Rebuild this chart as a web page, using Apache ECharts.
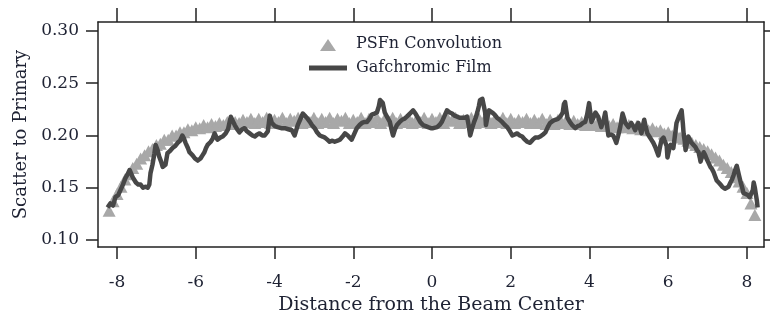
<!DOCTYPE html>
<html>
<head>
<meta charset="utf-8">
<script src="https://cdn.jsdelivr.net/npm/echarts@6/dist/echarts.min.js"></script>
<style>
  html, body { margin: 0; padding: 0; background: #fff; }
  #chart { width: 770px; height: 320px; }
</style>
</head>
<body>
<div id="chart"></div>
<script>
// tick labels
const xTicks = [-8, -6, -4, -2, 0, 2, 4, 6, 8];
const yTicks = [0.10, 0.15, 0.20, 0.25, 0.30];

// PSFn Convolution, sampled every 0.1 from -8.2 to 8.2
const psfStart = -8.2;
const psfStep = 0.1;
const psfY = [
  .128, .137, .144, .151, .158, .163, .169, .173, .178, .181, .185, .187, .191, .192, .196, .196, .200,
  .200, .203, .203, .206, .205, .208, .207, .210, .208, .211, .209, .212, .210, .213, .211, .213,
  .212, .215, .213, .216, .212, .216, .213, .217, .212, .215,
  .213, .217, .212, .216, .214, .217, .212, .215, .213, .217,
  .212, .216, .213, .217, .212, .216, .214, .217, .212, .215,
  .213, .217, .212, .216, .213, .217, .212, .216, .214, .217,
  .212, .216, .213, .217, .212, .215, .213, .217, .212,
  .216, .213, .217, .212, .216, .214, .217, .212, .215, .213,
  .217, .212, .216, .213, .217, .212, .216, .213, .217, .212,
  .216, .212, .215, .213, .216, .212, .215, .212, .216, .211,
  .215, .211, .215, .212, .214, .211, .214, .211, .213, .210,
  .213, .210, .212, .209, .212, .209, .211, .208, .211, .208,
  .210, .207, .209, .206, .208, .205, .207, .204, .205, .202, .203, .200, .201, .198, .197, .195, .193,
  .191, .189, .187, .185, .182, .179, .176, .172, .169, .165, .160, .156, .151, .145, .135, .124
];

// Gafchromic Film trace
const filmX = [
  -8.24, -8.17, -8.10, -8.04, -7.97, -7.91, -7.85, -7.79, -7.73, -7.68, -7.60, -7.52, -7.46, -7.40, -7.34, -7.28,
  -7.22, -7.18, -7.15, -7.10, -7.05, -7.02, -6.97, -6.93, -6.88, -6.84, -6.77, -6.72, -6.66, -6.59, -6.52, -6.46,
  -6.40, -6.34, -6.30, -6.26, -6.20, -6.16, -6.08, -6.02, -5.95, -5.88, -5.83, -5.78, -5.74, -5.70, -5.62, -5.57,
  -5.52, -5.45, -5.38, -5.32, -5.24, -5.18, -5.14, -5.11, -5.06, -5.01, -4.95, -4.89, -4.82, -4.76, -4.70, -4.63,
  -4.56, -4.50, -4.44, -4.38, -4.31, -4.25, -4.17, -4.12, -4.07, -3.99, -3.92, -3.83, -3.74, -3.65, -3.56, -3.49,
  -3.41, -3.34, -3.28, -3.18, -3.10, -3.05, -2.98, -2.92, -2.85, -2.78, -2.72, -2.66, -2.60, -2.53, -2.47, -2.40,
  -2.34, -2.27, -2.21, -2.14, -2.09, -2.04, -1.98, -1.91, -1.84, -1.78, -1.71, -1.65, -1.59, -1.53, -1.46, -1.40,
  -1.35, -1.32, -1.25, -1.20, -1.13, -1.07, -1.03, -0.99, -0.94, -0.89, -0.82, -0.76, -0.70, -0.64, -0.56, -0.48,
  -0.42, -0.36, -0.30, -0.23, -0.16, -0.10, -0.03, 0.03, 0.08, 0.13, 0.19, 0.25, 0.32, 0.38, 0.45, 0.51,
  0.57, 0.64, 0.70, 0.76, 0.83, 0.89, 0.93, 0.97, 1.02, 1.07, 1.11, 1.15, 1.19, 1.22, 1.28, 1.32,
  1.35, 1.37, 1.41, 1.45, 1.53, 1.59, 1.65, 1.72, 1.78, 1.85, 1.91, 1.98, 2.04, 2.10, 2.16, 2.23,
  2.29, 2.36, 2.42, 2.49, 2.56, 2.62, 2.69, 2.75, 2.82, 2.88, 2.94, 3.00, 3.07, 3.13, 3.20, 3.26,
  3.32, 3.35, 3.38, 3.41, 3.44, 3.50, 3.56, 3.64, 3.70, 3.77, 3.83, 3.89, 3.94, 3.99, 4.02, 4.05,
  4.10, 4.15, 4.22, 4.30, 4.36, 4.40, 4.44, 4.48, 4.54, 4.60, 4.64, 4.68, 4.73, 4.78, 4.84, 4.88,
  4.91, 4.99, 5.06, 5.11, 5.16, 5.20, 5.24, 5.28, 5.32, 5.36, 5.39, 5.43, 5.47, 5.52, 5.57, 5.62,
  5.67, 5.71, 5.75, 5.79, 5.83, 5.88, 5.93, 5.96, 5.98, 6.02, 6.06, 6.10, 6.13, 6.17, 6.21, 6.27,
  6.34, 6.37, 6.39, 6.42, 6.44, 6.48, 6.51, 6.55, 6.59, 6.64, 6.69, 6.73, 6.77, 6.80, 6.82, 6.86,
  6.90, 6.94, 6.97, 7.02, 7.07, 7.11, 7.15, 7.19, 7.23, 7.28, 7.33, 7.37, 7.40, 7.44, 7.48, 7.53,
  7.58, 7.62, 7.66, 7.70, 7.74, 7.79, 7.84, 7.88, 7.91, 7.96, 8.02, 8.07, 8.12, 8.15, 8.17, 8.20,
  8.22, 8.25, 8.27
];
const filmY = [
  .131, .135, .133, .141, .143, .148, .153, .159, .163, .167, .160, .155, .153, .153, .150, .151,
  .150, .153, .164, .172, .183, .191, .186, .180, .175, .170, .172, .183, .185, .188, .190, .193,
  .195, .200, .197, .193, .188, .184, .181, .178, .176, .178, .181, .184, .188, .191, .194, .197,
  .202, .196, .198, .199, .202, .206, .213, .218, .214, .210, .206, .203, .206, .207, .204, .202,
  .200, .199, .201, .202, .200, .200, .204, .219, .212, .209, .208, .207, .207, .206, .205, .200,
  .210, .216, .221, .217, .213, .210, .207, .203, .200, .199, .198, .196, .194, .195, .194, .195,
  .196, .199, .202, .200, .198, .196, .201, .207, .210, .212, .213, .213, .216, .220, .221, .222,
  .228, .234, .231, .222, .217, .213, .206, .200, .206, .210, .213, .215, .216, .218, .221, .224,
  .221, .217, .213, .210, .209, .208, .207, .207, .208, .208, .210, .213, .219, .224, .222, .221,
  .219, .218, .217, .217, .217, .218, .210, .200, .207, .213, .217, .222, .228, .234, .235, .236,
  .222, .210, .218, .224, .222, .220, .217, .215, .213, .210, .208, .204, .200, .201, .202, .200,
  .199, .196, .194, .193, .196, .198, .198, .199, .201, .203, .208, .212, .214, .215, .216, .218,
  .222, .230, .232, .224, .217, .213, .210, .207, .209, .210, .212, .213, .220, .231, .222, .213,
  .217, .222, .218, .208, .215, .222, .211, .200, .201, .200, .197, .193, .200, .208, .221, .216,
  .212, .208, .212, .209, .205, .209, .212, .207, .202, .210, .215, .208, .202, .199, .196, .193,
  .189, .185, .181, .189, .196, .198, .199, .190, .179, .186, .191, .190, .188, .200, .212, .218,
  .224, .212, .202, .194, .186, .193, .199, .196, .193, .191, .189, .186, .184, .179, .175, .180,
  .184, .181, .178, .174, .170, .168, .165, .161, .157, .155, .153, .151, .150, .149, .148, .151,
  .155, .158, .162, .167, .171, .163, .155, .150, .145, .144, .143, .141, .140, .148, .155, .150,
  .145, .138, .131
];

const textColor = '#1e2233';
const frameColor = '#222';
const serif = 'DejaVu Serif';

const psfData = psfY.map((v, i) => [Math.round((psfStart + i * psfStep) * 10) / 10, v]);
const filmData = filmX.map((x, i) => [x, filmY[i]]);

// legend icons drawn inside a 38x14 box so they are not stretched
const triIcon = 'path://M0,0 L0,0 M38,14 L38,14 M19,2 L27,14 L11,14 Z';
const barIcon = 'path://M0,0 L0,0 M38,14 L38,14 M0,4.5 L38,4.5 L38,9.5 L0,9.5 Z';

const chart = echarts.init(document.getElementById('chart'));

const xBase = {
  type: 'value',
  min: -8.483,
  max: 8.432,
  splitLine: { show: false },
  axisLine: { show: true, onZero: false, lineStyle: { color: frameColor, width: 1.5 } },
  axisTick: { show: true, customValues: xTicks, length: 12, lineStyle: { color: frameColor, width: 1.5 } }
};
const yBase = {
  type: 'value',
  min: 0.0933,
  max: 0.3086,
  splitLine: { show: false },
  axisLine: { show: true, onZero: false, lineStyle: { color: frameColor, width: 1.5 } },
  axisTick: { show: true, customValues: yTicks, length: 12, lineStyle: { color: frameColor, width: 1.5 } }
};

chart.setOption({
  animation: false,
  grid: { left: 98, right: 6, top: 22, bottom: 73 },
  legend: {
    orient: 'vertical',
    left: 304,
    top: 31,
    itemWidth: 38,
    itemHeight: 14,
    itemGap: 8,
    textStyle: { fontFamily: serif, fontSize: 16, color: textColor, padding: [0, 0, 0, 4] },
    data: [
      { name: 'PSFn Convolution', icon: triIcon },
      { name: 'Gafchromic Film', icon: barIcon }
    ]
  },
  xAxis: [
    Object.assign({}, xBase, {
      position: 'bottom',
      name: 'Distance from the Beam Center',
      nameLocation: 'middle',
      nameGap: 42,
      nameTextStyle: { fontFamily: serif, fontSize: 19, color: textColor },
      axisLabel: { customValues: xTicks, margin: 27, fontFamily: serif, fontSize: 17, color: textColor }
    }),
    Object.assign({}, xBase, {
      position: 'top',
      axisTick: Object.assign({}, xBase.axisTick, { length: 14 }),
      axisLabel: { show: false }
    })
  ],
  yAxis: [
    Object.assign({}, yBase, {
      position: 'left',
      name: 'Scatter to Primary',
      nameLocation: 'middle',
      nameGap: 64,
      nameTextStyle: { fontFamily: serif, fontSize: 18, color: textColor },
      axisLabel: {
        customValues: yTicks, margin: 19, fontFamily: serif, fontSize: 17, color: textColor,
        formatter: v => v.toFixed(2)
      }
    }),
    Object.assign({}, yBase, {
      position: 'right',
      axisTick: Object.assign({}, yBase.axisTick, { length: 8 }),
      axisLabel: { show: false }
    })
  ],
  series: [
    {
      name: 'PSFn Convolution',
      type: 'scatter',
      symbol: 'triangle',
      symbolSize: [13, 12],
      itemStyle: { color: '#a8a8a8', opacity: 1 },
      data: psfData,
      z: 2
    },
    {
      name: 'Gafchromic Film',
      type: 'line',
      symbol: 'none',
      showSymbol: false,
      lineStyle: { color: '#474747', width: 4.5, join: 'round' },
      itemStyle: { color: '#474747' },
      data: filmData,
      z: 3
    }
  ]
});
</script>
</body>
</html>
